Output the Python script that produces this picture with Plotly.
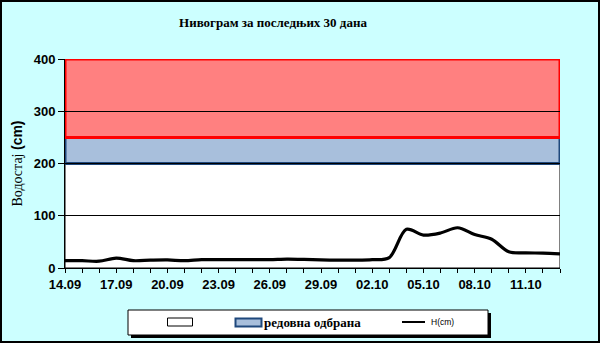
import plotly.graph_objects as go

dates = ["14.09","15.09","16.09","17.09","18.09","19.09","20.09","21.09","22.09","23.09",
         "24.09","25.09","26.09","27.09","28.09","29.09","30.09","01.10","02.10","03.10",
         "04.10","05.10","06.10","07.10","08.10","09.10","10.10","11.10","12.10","13.10"]
level_cm = [14, 14, 13, 19, 14, 15, 15.5, 14, 16, 16,
            16, 16, 16, 17, 16.5, 15.5, 15, 15, 16, 20,
            74, 63, 67, 77, 64, 55, 31, 29, 28.5, 27]
# band limits (cm): normal, regular defence, emergency
band_low = [0, 200, 250]
band_high = [200, 250, 400]
band_names = ["", "редовна одбрана", ""]
series_name = "H(cm)"
y_ticks = [0, 100, 200, 300, 400]

W, H = 600, 343
L, R, T, B = 65, 40, 59, 75
pw, ph = W - L - R, H - T - B

def px(x):
    return (x - L) / pw

def py(y):
    return (H - B - y) / ph

idx = list(range(len(dates)))
ticktext = [d if i % 3 == 0 else "" for i, d in enumerate(dates)]

fig = go.Figure()
fig.add_trace(go.Scatter(
    x=idx, y=level_cm, mode="lines", name=series_name,
    line=dict(color="black", width=3.2, shape="spline", smoothing=0.9),
    showlegend=False, hoverinfo="skip"))

fills = ["white", "#A8BFDC", "#FF8080"]
lines = ["black", "#1F487C", "#FF0000"]
lw = [1, 3, 3]
shapes = []
for i in range(3):
    shapes.append(dict(type="rect", xref="x", yref="y", x0=idx[0], x1=idx[-1],
                       y0=band_low[i], y1=band_high[i], fillcolor=fills[i],
                       line=dict(color=lines[i], width=lw[i]), layer="below"))

# legend frame with shadow
shapes.append(dict(type="rect", xref="paper", yref="paper", x0=px(131), x1=px(491),
                   y0=py(338), y1=py(313), fillcolor="black", line=dict(width=0), layer="below"))
shapes.append(dict(type="rect", xref="paper", yref="paper", x0=px(128), x1=px(488),
                   y0=py(335), y1=py(310), fillcolor="white", line=dict(color="black", width=1), layer="below"))
# legend swatches
shapes.append(dict(type="rect", xref="paper", yref="paper", x0=px(167.5), x1=px(192.5),
                   y0=py(326), y1=py(318), fillcolor=fills[0], line=dict(color=lines[0], width=1)))
shapes.append(dict(type="rect", xref="paper", yref="paper", x0=px(235.5), x1=px(261.5),
                   y0=py(326.5), y1=py(318.5), fillcolor=fills[1], line=dict(color=lines[1], width=2)))
shapes.append(dict(type="line", xref="paper", yref="paper", x0=px(402), x1=px(425),
                   y0=py(322), y1=py(322), line=dict(color="black", width=2)))
# outer border
shapes.append(dict(type="rect", xref="paper", yref="paper", x0=px(1), x1=px(599),
                   y0=py(342), y1=py(1), line=dict(color="black", width=2), layer="below"))

annotations = [
    dict(text="<b>" + band_names[1] + "</b>", xref="paper", yref="paper", x=px(262), y=py(322.5),
         xanchor="left", yanchor="middle", showarrow=False,
         font=dict(family="Liberation Serif", size=13, color="black")),
    dict(text=series_name, xref="paper", yref="paper", x=px(429), y=py(322),
         xanchor="left", yanchor="middle", showarrow=False,
         font=dict(family="Liberation Sans", size=8.5, color="black")),
]

fig.update_layout(
    width=W, height=H, margin=dict(l=L, r=R, t=T, b=B, autoexpand=False),
    paper_bgcolor="#CCFFFF", plot_bgcolor="white",
    shapes=shapes, annotations=annotations, showlegend=False,
    title=dict(text="<b>Нивограм за последњих 30 дана</b>", x=273 / W, xanchor="center",
               y=1 - 22 / H, yanchor="middle",
               font=dict(family="Liberation Serif", size=13, color="black")),
    xaxis=dict(range=[idx[0], idx[-1]], tickvals=idx, ticktext=ticktext, ticks="outside",
               ticklen=4, tickcolor="black", showline=True, linecolor="black", linewidth=1,
               showgrid=False, zeroline=False,
               tickfont=dict(family="Liberation Sans", size=13, color="black", weight="bold")),
    yaxis=dict(range=[0, 400], tickvals=y_ticks, ticks="outside", ticklen=6, tickcolor="black",
               showline=True, linecolor="black", linewidth=1, showgrid=True, gridcolor="black",
               gridwidth=1, zeroline=False,
               tickfont=dict(family="Liberation Sans", size=13, color="black", weight="bold"),
               title=dict(text='Водостај <span style="font-family:Liberation Sans;font-weight:bold">(cm)</span>',
                          standoff=7,
                          font=dict(family="Liberation Serif", size=14, color="black"))),
)
fig.write_html("out.html")
